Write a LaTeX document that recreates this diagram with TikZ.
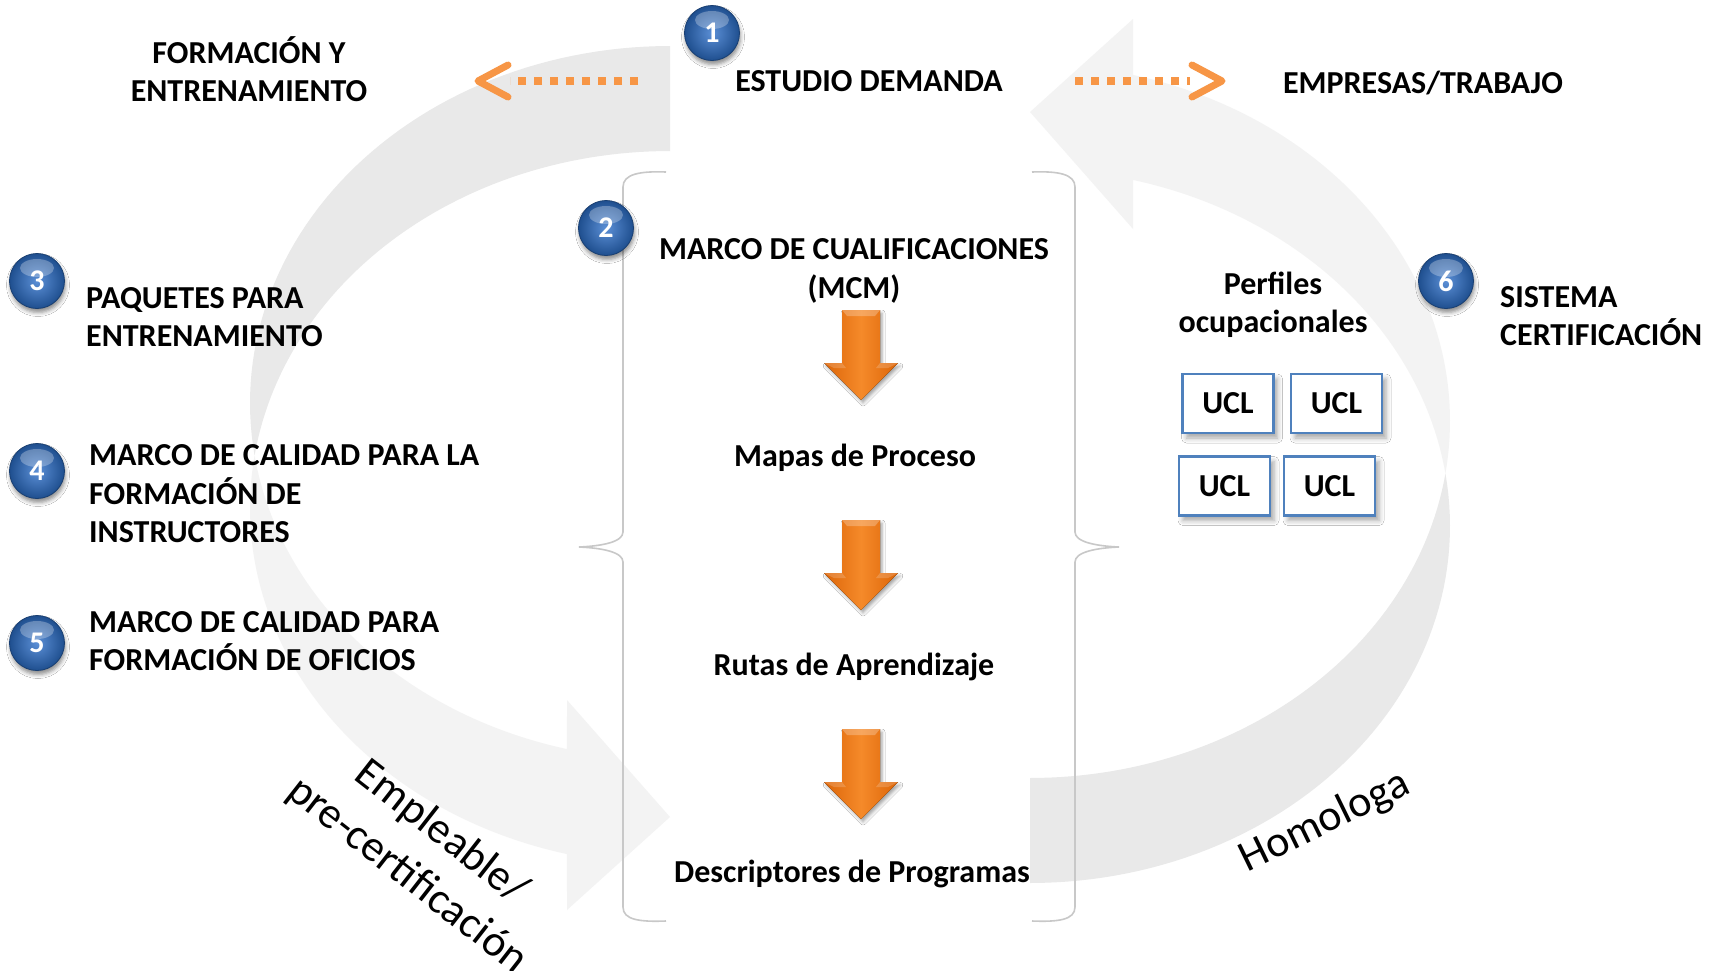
\documentclass[tikz,border=0pt]{standalone}
\usepackage{fontspec}
\setmainfont{Carlito}
\usetikzlibrary{shadows.blur}
\definecolor{bandDark}{HTML}{E9E9E9}
\definecolor{bandLight}{HTML}{F3F3F3}
\definecolor{dotOrange}{HTML}{F79646}
\definecolor{arrOrange}{HTML}{F58A2A}
\definecolor{arrDark}{HTML}{DC6508}
\definecolor{badgeIn}{HTML}{5B8FD6}
\definecolor{badgeOut}{HTML}{1F4F8F}
\definecolor{uclBlue}{HTML}{4F81BD}
\definecolor{braceGray}{HTML}{C8C8C8}
\newcommand\cyclearrow{%
  \fill[bandDark] plot[domain=90:188.46, samples=60] ({670+420*cos(\x)},{403-357*sin(\x)})
    -- plot[domain=171.54:90, samples=60] ({670+420*cos(\x)},{508-357*sin(\x)}) -- cycle;
  \fill[bandLight] plot[domain=171.54:255.8, samples=60] ({670+420*cos(\x)},{508-357*sin(\x)})
    -- (567,910) -- (670,817) -- (567,700)
    -- plot[domain=255.8:188.46, samples=60] ({670+420*cos(\x)},{403-357*sin(\x)}) -- cycle;
}
\tikzset{pics/downarr/.style={code={
  \fill[left color=arrDark, right color=arrDark, middle color=arrOrange,
        blur shadow={shadow xshift=2pt, shadow yshift=-3pt, shadow blur radius=3pt, shadow opacity=35}]
    (-19,0) -- (19,0) -- (19,53) -- (37,53) -- (0,90) -- (-37,53) -- (-19,53) -- cycle;
  \fill[white, opacity=.25] (-19,0) -- (19,0) -- (14,6) -- (-14,6) -- cycle;
  \fill[white, opacity=.18] (-37,53) -- (-19,53) -- (-15,58) -- (-27,58) -- cycle;
  \fill[white, opacity=.18] (37,53) -- (19,53) -- (15,58) -- (27,58) -- cycle;
}}}
\begin{document}
\begin{tikzpicture}[x=1pt,y=-1pt,
  lbl/.style={font=\bfseries\fontsize{32}{38.5}\selectfont, inner sep=0pt, text=black},
  rot/.style={font=\fontsize{44}{55}\selectfont, inner sep=0pt, align=center},
  badge/.style={circle, minimum size=55pt, inner sep=0pt, inner color=badgeIn, outer color=badgeOut,
    draw=badgeOut!80!black, line width=0.8pt, text=white, font=\bfseries\fontsize{30}{30}\selectfont,
    blur shadow={shadow xshift=1pt, shadow yshift=-4pt, shadow blur radius=4pt, shadow opacity=45},
    path picture={\fill[white,opacity=.28] ([yshift=13pt]path picture bounding box.center) ellipse (17pt and 9pt);}},
  ucl/.style={draw=uclBlue, line width=2.2pt, fill=white, minimum width=91pt, minimum height=59pt,
    inner sep=0pt, font=\bfseries\fontsize{32}{32}\selectfont,
    blur shadow={shadow xshift=4pt, shadow yshift=-5pt, shadow blur radius=5pt, shadow opacity=35}},
  dotline/.style={dotOrange, line width=8pt, dash pattern=on 8pt off 8pt},
  chevron/.style={dotOrange, line width=7pt, line cap=round, line join=round},
  bracestyle/.style={braceGray, line width=1.6pt},
]
\fill[white] (0,0) rectangle (1719,970);
\useasboundingbox (0,0) rectangle (1719,970);

% big cycle arrows
\cyclearrow
\begin{scope}[rotate around={180:(850,464.5)}]
  \cyclearrow
\end{scope}

% braces
\draw[bracestyle] (666,172) .. controls (640,171) and (623,174) .. (623,187) -- (623,532)
  .. controls (623,542) and (602,546) .. (579,547) .. controls (602,548) and (623,552) .. (623,562)
  -- (623,907) .. controls (623,920) and (640,922) .. (666,921);
\draw[bracestyle] (1032,172) .. controls (1058,171) and (1075,174) .. (1075,187) -- (1075,532)
  .. controls (1075,542) and (1096,546) .. (1119,547) .. controls (1096,548) and (1075,552) .. (1075,562)
  -- (1075,907) .. controls (1075,920) and (1058,922) .. (1032,921);

% orange block arrows
\pic at (861,310) {downarr};
\pic at (861,520) {downarr};
\pic at (861,729) {downarr};

% dotted arrows
\coordinate (dl1) at (638,81);
\coordinate (dl2) at (510,81);
\coordinate (dr1) at (1075,81);
\coordinate (dr2) at (1190,81);
\draw[dotline] (dl1) -- (dl2);
\draw[chevron] (508,65) -- (478,81) -- (508,97);
\draw[dotline] (dr1) -- (dr2);
\draw[chevron] (1192,65) -- (1222,81) -- (1192,97);

% texts
\node[lbl] (est) at (869,81) {ESTUDIO DEMANDA};
\node[lbl] (emp) at (1423,83) {EMPRESAS/TRABAJO};
\node[lbl, align=center] (form) at (249,69) {FORMACIÓN Y\\ENTRENAMIENTO};
\node[lbl, align=center] (mcm) at (854,271) {MARCO DE CUALIFICACIONES\\(MCM)};
\node[lbl] (map) at (855,458) {Mapas de Proceso};
\node[lbl] (rut) at (854,667) {Rutas de Aprendizaje};
\node[lbl] (desc) at (852,874) {Descriptores de Programas};
\node[lbl, align=left, anchor=west] (paq) at (86,317) {PAQUETES PARA\\ENTRENAMIENTO};
\node[lbl, align=left, anchor=west] (mci) at (89,494) {MARCO DE CALIDAD PARA LA\\FORMACIÓN DE\\INSTRUCTORES};
\node[lbl, align=left, anchor=west] (mco) at (89,641) {MARCO DE CALIDAD PARA\\FORMACIÓN DE OFICIOS};
\node[lbl, align=left, anchor=west] (sis) at (1500,316) {SISTEMA\\CERTIFICACIÓN};
\node[lbl, align=center] (perf) at (1273,305) {Perfiles\\ocupacionales};

% UCL boxes
\node[ucl] (u1) at (1228,403.5) {UCL};
\node[ucl] (u2) at (1336.5,403.5) {UCL};
\node[ucl] (u3) at (1224.5,486) {UCL};
\node[ucl] (u4) at (1329.5,486) {UCL};

% badges
\node[badge] (b1) at (712,33) {1};
\node[badge] (b2) at (606,228) {2};
\node[badge] (b3) at (37,281) {3};
\node[badge] (b4) at (37,471) {4};
\node[badge] (b5) at (37,643) {5};
\node[badge] (b6) at (1446,281) {6};

% rotated labels
\node[rot, rotate=-38] (empl) at (424,854) {Empleable/\\pre-certificación};
\node[rot, rotate=26] (hom) at (1325,822) {Homologa};
\end{tikzpicture}
\end{document}
